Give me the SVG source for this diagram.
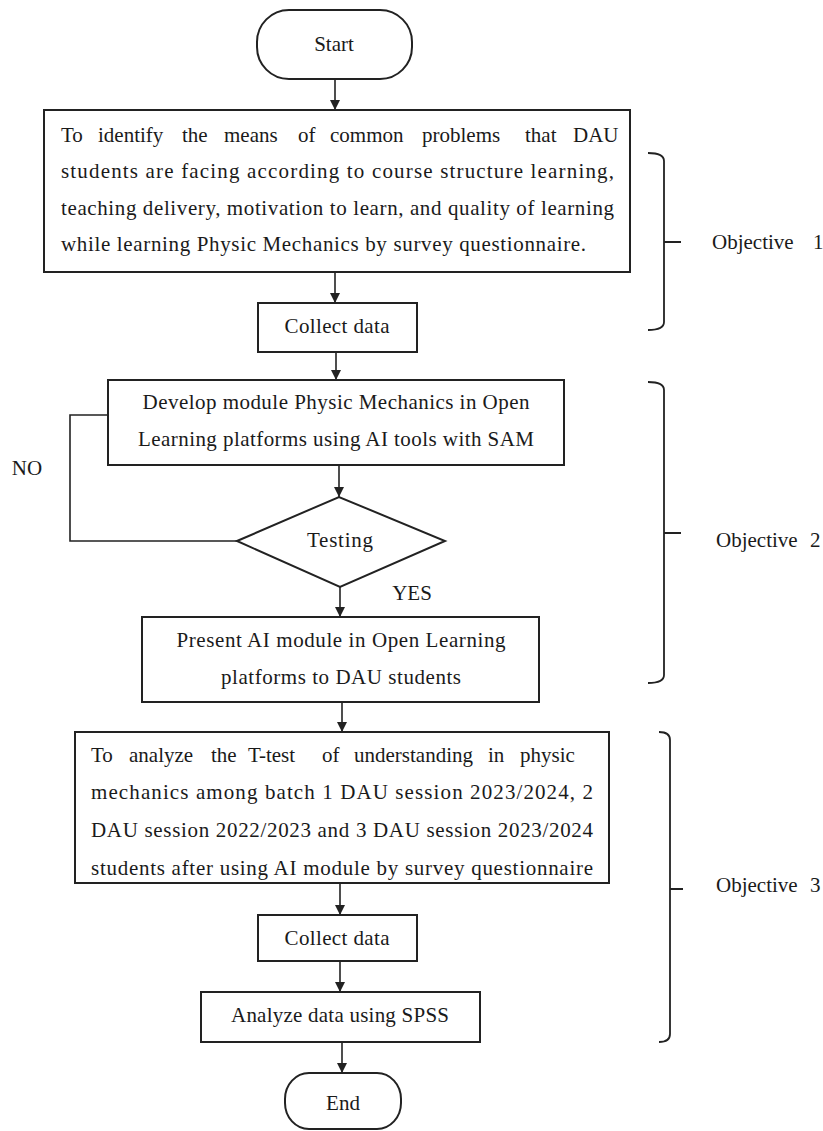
<svg xmlns="http://www.w3.org/2000/svg" width="823" height="1131" viewBox="0 0 823 1131">
<style>
.box{fill:#fff;stroke:#222;stroke-width:2}
.ln{fill:none;stroke:#222;stroke-width:1.6}
.br{fill:none;stroke:#222;stroke-width:1.8}
text{font-family:"Liberation Serif","Times New Roman",serif;font-size:21px;fill:#1a1a1a;dominant-baseline:central}
.c{text-anchor:middle}
</style>
<defs>
<marker id="ah" markerUnits="userSpaceOnUse" markerWidth="10" markerHeight="11" refX="10" refY="5" orient="auto">
<path d="M0,0 L10,5 L0,10 z" fill="#222"/>
</marker>
</defs>
<rect width="823" height="1131" fill="#fff"/>

<g id="connectors">
<path class="ln" d="M335,79 V110" marker-end="url(#ah)"/>
<path class="ln" d="M335,272 V303" marker-end="url(#ah)"/>
<path class="ln" d="M336,352 V380" marker-end="url(#ah)"/>
<path class="ln" d="M339,465 V497" marker-end="url(#ah)"/>
<path class="ln" d="M340,587 V617" marker-end="url(#ah)"/>
<path class="ln" d="M237,541 H70 V415 H108"/>
<path class="ln" d="M342,702 V732" marker-end="url(#ah)"/>
<path class="ln" d="M340,883 V915" marker-end="url(#ah)"/>
<path class="ln" d="M340,961 V992" marker-end="url(#ah)"/>
<path class="ln" d="M342,1042 V1073" marker-end="url(#ah)"/>
<text x="27" y="468" class="c">NO</text>
<text x="412" y="593" class="c">YES</text>
</g>

<g id="start">
<rect class="box" x="257" y="10" width="155" height="69" rx="32" ry="32"/>
<text x="334" y="44" class="c">Start</text>
</g>

<g id="identify">
<rect class="box" x="44" y="110" width="586" height="162"/>
<text y="135"><tspan x="61">To</tspan><tspan x="98">identify</tspan><tspan x="182">the</tspan><tspan x="224">means</tspan><tspan x="298">of</tspan><tspan x="330">common</tspan><tspan x="422">problems</tspan><tspan x="525">that</tspan><tspan x="573">DAU</tspan></text>
<text x="61" y="171" textLength="553">students are facing according to course structure learning,</text>
<text x="61" y="208" textLength="553">teaching delivery, motivation to learn, and quality of learning</text>
<text x="61" y="244" textLength="525">while learning Physic Mechanics by survey questionnaire.</text>
</g>

<g id="collect1">
<rect class="box" x="258" y="303" width="159" height="49"/>
<text x="337" y="326" class="c" textLength="105">Collect data</text>
</g>

<g id="develop">
<rect class="box" x="108" y="380" width="456" height="85"/>
<text x="336" y="402" class="c" textLength="387">Develop module Physic Mechanics in Open</text>
<text x="336" y="439" class="c" textLength="396">Learning platforms using AI tools with SAM</text>
</g>

<g id="testing">
<polygon class="box" points="237,541 339,497 445,541 340,587"/>
<text x="340" y="540" class="c" textLength="66">Testing</text>
</g>

<g id="present">
<rect class="box" x="142" y="617" width="397" height="85"/>
<text x="341" y="640" class="c" textLength="329">Present AI module in Open Learning</text>
<text x="341" y="677" class="c" textLength="240">platforms to DAU students</text>
</g>

<g id="analyze-ttest">
<rect class="box" x="75" y="732" width="534" height="151"/>
<text y="755"><tspan x="91">To</tspan><tspan x="129">analyze</tspan><tspan x="211">the</tspan><tspan x="248">T-test</tspan><tspan x="322">of</tspan><tspan x="354">understanding</tspan><tspan x="488">in</tspan><tspan x="520">physic</tspan></text>
<text x="91" y="792" textLength="502">mechanics among batch 1 DAU session 2023/2024, 2</text>
<text x="91" y="830" textLength="502">DAU session 2022/2023 and 3 DAU session 2023/2024</text>
<text x="91" y="868" textLength="502">students after using AI module by survey questionnaire</text>
<path d="M75,883 H609" stroke="#222" stroke-width="2"/>
</g>

<g id="collect2">
<rect class="box" x="258" y="915" width="159" height="46"/>
<text x="337" y="938" class="c" textLength="105">Collect data</text>
</g>

<g id="spss">
<rect class="box" x="201" y="992" width="279" height="50"/>
<text x="340" y="1015" class="c" textLength="218">Analyze data using SPSS</text>
</g>

<g id="end">
<rect class="box" x="285" y="1073" width="116" height="56" rx="24" ry="26"/>
<text x="343" y="1103" class="c">End</text>
</g>

<g id="objective1">
<path class="br" d="M648,153 Q664,153 664,161 V322 Q664,330 648,330 M664,242 H681"/>
<text x="712" y="242">Objective</text>
<text x="813" y="242">1</text>
</g>
<g id="objective2">
<path class="br" d="M648,382 Q664,382 664,390 V675 Q664,683 648,683 M664,533 H681"/>
<text x="716" y="540">Objective</text>
<text x="810" y="540">2</text>
</g>
<g id="objective3">
<path class="br" d="M659,732 Q670,732 670,740 V1034 Q670,1042 659,1042 M670,889 H683"/>
<text x="716" y="885">Objective</text>
<text x="810" y="885">3</text>
</g>
</svg>
